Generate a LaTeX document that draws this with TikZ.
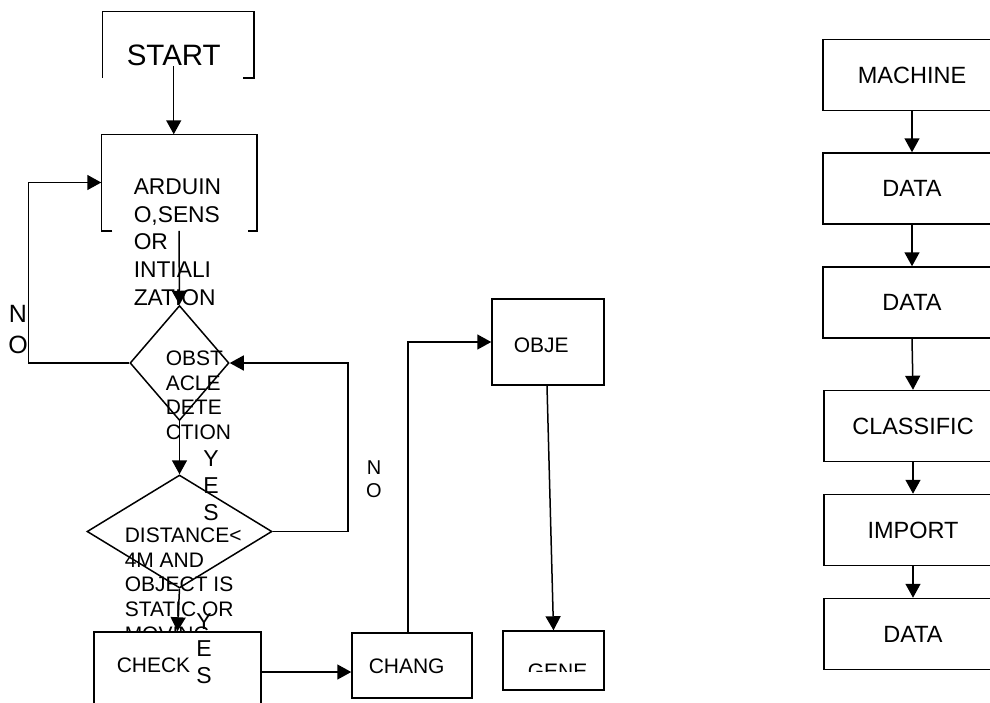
\documentclass[tikz,border=0pt]{standalone}
\usepackage{fontspec}
\setmainfont{Liberation Sans}
\usetikzlibrary{arrows.meta,shapes.geometric}

\begin{document}
\begin{tikzpicture}[
    x=1pt, y=-1pt,
    >={Triangle[length=14pt,width=15pt]},
    line width=1.5pt,
    box/.style={rectangle, draw=black, fill=white, inner sep=0pt},
    openbox/.style={rectangle, draw=none, inner sep=0pt},
    dia/.style={diamond, draw=black, inner sep=0pt},
    txt/.style={inner sep=0pt, align=left, font=\fontsize{21pt}{24.7pt}\selectfont},
    tag/.style={inner sep=0pt, align=center, font=\fontsize{23pt}{27pt}\selectfont},
    rbox/.style={rectangle, draw=black, inner sep=0pt, minimum width=178pt,
        minimum height=71pt, font=\fontsize{23.5pt}{28pt}\selectfont},
    arr/.style={->}
  ]
  \useasboundingbox (0,0) rectangle (990,702);
  \clip (0,0) rectangle (990,702);

  % left flow
  \node[openbox, minimum width=150pt, minimum height=65pt] (startbox) at (178,44.5) {};
  \node[inner sep=0pt, font=\fontsize{29.5pt}{34pt}\selectfont, anchor=base west] (start) at (126,65) {START};
  \draw (startbox.south west) |- (startbox.north east) -- (startbox.south east) -- ++(-11,0);

  \node[openbox, minimum width=154pt, minimum height=95pt] (ardbox) at (179,182.5) {};
  \draw ([xshift=11pt]ardbox.south west) -- (ardbox.south west) |- (ardbox.north east) -- (ardbox.south east) -- ++(-9,0);
  \node[txt, font=\fontsize{22.8pt}{27.7pt}\selectfont, anchor=north west] (ard) at (133,178) {ARDUIN\\O,SENS\\OR\\INTIALI\\ZATION};

  \node[dia, minimum width=99pt, minimum height=115pt] (obst) at (179.5,363) {};
  \node[txt, anchor=north west] (obsttxt) at (165,350) {OBST\\ACLE\\DETE\\CTION};

  \node[dia, minimum width=185pt, minimum height=113pt] (dist) at (179.5,531.5) {};
  \node[txt, anchor=north west] (disttxt) at (124,527) {DISTANCE<\\4M AND\\OBJECT IS\\STATIC OR\\MOVING};

  \node[box, minimum width=167pt, minimum height=80pt] (check) at (177.5,672) {};
  \node[txt, anchor=base west] (checktxt) at (116,672) {CHECK};

  \node[box, minimum width=120pt, minimum height=65pt] (chang) at (412,665.5) {};
  \node[txt, anchor=base west] (changtxt) at (368,673) {CHANG};

  \node[box, minimum width=112pt, minimum height=86pt] (obje) at (548,342) {};
  \node[txt, anchor=base west] (objetxt) at (513,352) {OBJE};

  \node[box, minimum width=101pt, minimum height=59pt] (gene) at (553.5,660.5) {};
  \begin{scope}
    \clip (503,631) rectangle (604,671);
    \node[txt, anchor=north west] (genetxt) at (527,663) {GENE};
  \end{scope}

  \node[tag, font=\fontsize{25pt}{31pt}\selectfont] (noL) at (18,329.5) {N\\O};
  \node[tag, font=\fontsize{20pt}{23.5pt}\selectfont] (noR) at (374,479) {N\\O};
  \node[tag] (yesA) at (211,486) {Y\\E\\S};
  \node[tag] (yesB) at (204,649) {Y\\E\\S};

  \draw[arr] (start.south) -- (start.south |- ardbox.north);
  \draw[arr] (ardbox.south) -- (obst.north);
  \draw[arr] (obst.west) -- ++(-101,0) |- (ardbox.west);
  \draw[arr] (obst.south) -- (dist.north);
  \draw[arr] (dist.east) -- ++(75,0) |- (obst.east);
  \draw[arr] (dist.south) -- (check.north);
  \draw[arr] (check.east) -- (check.east -| chang.west);
  \draw[arr] ([xshift=-4pt]chang.north) |- (obje.west);
  \draw[arr] ([xshift=-1pt]obje.south) -- (gene.north);

  % right column
  \node[rbox] (mach)    at (912,75)    {MACHINE};
  \node[rbox] (dataA)   at (912,188.5) {DATA};
  \node[rbox] (dataB)   at (912,302.5) {DATA};
  \node[rbox] (classif) at (913,426)   {CLASSIFIC};
  \node[rbox] (import)  at (913,530)   {IMPORT};
  \node[rbox] (dataC)   at (913,634)   {DATA};
  \foreach \a/\b in {mach/dataA, dataA/dataB, dataB/classif, classif/import, import/dataC}
    \draw[arr] (\a.south) -- (\b.north);
\end{tikzpicture}
\end{document}
